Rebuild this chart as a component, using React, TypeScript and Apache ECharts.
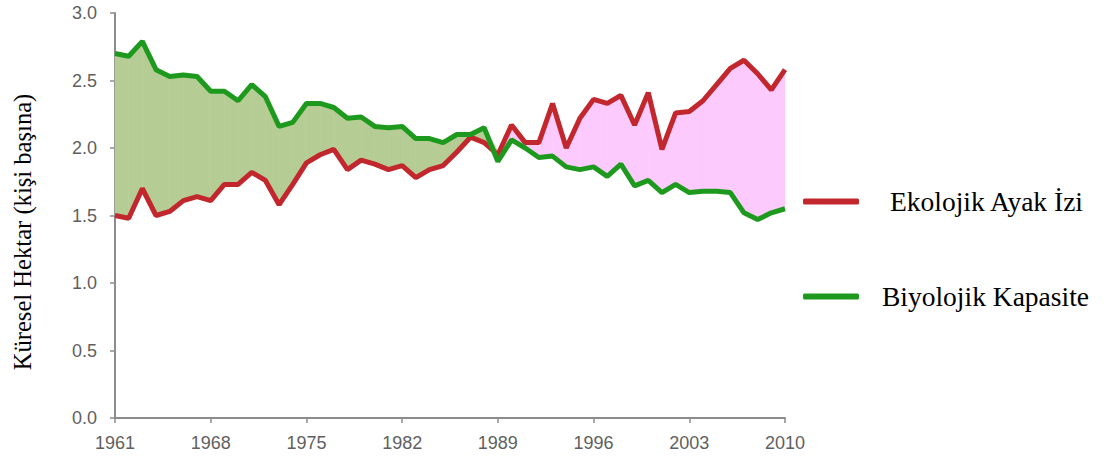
import React, { useEffect, useRef } from "react";
import * as echarts from "echarts";

const years: string[] = [];
for (let y = 1961; y <= 2010; y++) years.push(String(y));

const footprint = [
  1.50, 1.48, 1.70, 1.50, 1.53, 1.61, 1.64, 1.61, 1.73, 1.73,
  1.82, 1.76, 1.58, 1.73, 1.89, 1.95, 1.99, 1.84, 1.91, 1.88,
  1.84, 1.87, 1.78, 1.84, 1.87, 1.97, 2.08, 2.04, 1.95, 2.17,
  2.04, 2.04, 2.33, 2.00, 2.22, 2.36, 2.33, 2.39, 2.17, 2.41,
  1.99, 2.26, 2.27, 2.35, 2.47, 2.59, 2.65, 2.55, 2.43, 2.58,
];

const biocapacity = [
  2.70, 2.68, 2.79, 2.58, 2.53, 2.54, 2.53, 2.42, 2.42, 2.35,
  2.47, 2.38, 2.16, 2.19, 2.33, 2.33, 2.30, 2.22, 2.23, 2.16,
  2.15, 2.16, 2.07, 2.07, 2.04, 2.10, 2.10, 2.15, 1.90, 2.06,
  2.00, 1.93, 1.94, 1.86, 1.84, 1.86, 1.79, 1.88, 1.72, 1.76,
  1.67, 1.73, 1.67, 1.68, 1.68, 1.67, 1.52, 1.47, 1.52, 1.55,
];

const seriesNames = ["Ekolojik Ayak İzi", "Biyolojik Kapasite"];
const yTitle = "Küresel Hektar (kişi başına)";

const RED = "#c1272d";
const GREEN = "#1d9a1d";
const FILL_GREEN = "#b5cd95";
const FILL_PINK = "#fdcafd";

export default function App() {
  const ref = useRef<HTMLDivElement>(null);

  useEffect(() => {
    if (!ref.current) return;
    const chart = echarts.init(ref.current, undefined, { renderer: "svg" });

    const segData = [];
    for (let i = 0; i < years.length - 1; i++) segData.push([i, biocapacity[i], footprint[i]]);

    const renderItem = (params: any, api: any) => {
      const i = api.value(0) as number;
      const a0 = biocapacity[i], b0 = footprint[i];
      const a1 = biocapacity[i + 1], b1 = footprint[i + 1];
      const d0 = a0 - b0, d1 = a1 - b1;
      const c = (pts: number[][]) => pts.map((p) => api.coord(p));
      const children: any[] = [];
      const poly = (pts: number[][], color: string) =>
        children.push({
          type: "polygon",
          shape: { points: c(pts) },
          style: { fill: color, stroke: color, lineWidth: 0.6 },
        });
      if (d0 * d1 >= 0) {
        const col = d0 + d1 >= 0 ? FILL_GREEN : FILL_PINK;
        poly([[i, a0], [i + 1, a1], [i + 1, b1], [i, b0]], col);
      } else {
        const t = d0 / (d0 - d1);
        const xc = i + t;
        const yc = a0 + t * (a1 - a0);
        poly([[i, a0], [xc, yc], [i, b0]], d0 > 0 ? FILL_GREEN : FILL_PINK);
        poly([[xc, yc], [i + 1, a1], [i + 1, b1]], d1 > 0 ? FILL_GREEN : FILL_PINK);
      }
      return { type: "group", children };
    };

    const axisGray = "#8c8c8c";
    const labelGray = "#5f5f5f";
    const labelFont = "'Liberation Sans', Arial, sans-serif";
    const serif = "'Liberation Serif', 'Times New Roman', serif";

    const legendText = (padLeft: number) => ({
      fontFamily: serif,
      fontSize: 27.5,
      lineHeight: 30,
      color: "#000",
      padding: [0, 0, 0, padLeft],
    });

    chart.setOption({
      animation: false,
      grid: { left: 115, right: 319, top: 13, bottom: 45 },
      legend: [
        {
          data: [{ name: seriesNames[0], icon: "roundRect" }],
          left: 803,
          top: 186.5,
          padding: 0,
          itemWidth: 56,
          itemHeight: 6,
          itemGap: 0,
          textStyle: legendText(26),
          selectedMode: false,
        },
        {
          data: [{ name: seriesNames[1], icon: "roundRect" }],
          left: 803,
          top: 281.5,
          padding: 0,
          itemWidth: 56,
          itemHeight: 6,
          itemGap: 0,
          textStyle: legendText(18),
          selectedMode: false,
        },
      ],
      graphic: [
        {
          type: "text",
          x: 22,
          y: 232,
          rotation: Math.PI / 2,
          style: {
            text: yTitle,
            fontFamily: serif,
            fontSize: 24.6,
            fill: "#000",
            align: "center",
            verticalAlign: "middle",
          },
        },
      ],
      xAxis: {
        type: "category",
        data: years,
        boundaryGap: false,
        axisLine: { lineStyle: { color: axisGray, width: 2 } },
        axisTick: { interval: 6, length: 5, lineStyle: { color: axisGray, width: 1.5 } },
        axisLabel: {
          interval: 6,
          color: labelGray,
          fontFamily: labelFont,
          fontSize: 18,
          margin: 16,
        },
        splitLine: { show: false },
      },
      yAxis: {
        type: "value",
        min: 0,
        max: 3,
        interval: 0.5,
        axisLine: { show: true, lineStyle: { color: axisGray, width: 2 } },
        axisTick: { show: true, length: 5, lineStyle: { color: axisGray, width: 1.5 } },
        axisLabel: {
          color: labelGray,
          fontFamily: labelFont,
          fontSize: 18,
          margin: 18,
          formatter: (v: number) => v.toFixed(1),
        },
        splitLine: { show: false },
      },
      series: [
        {
          type: "custom",
          name: "fill",
          data: segData,
          renderItem,
          z: 1,
          silent: true,
        },
        {
          type: "line",
          name: seriesNames[0],
          data: footprint,
          symbol: "none",
          color: RED,
          lineStyle: { color: RED, width: 5 },
          z: 3,
        },
        {
          type: "line",
          name: seriesNames[1],
          data: biocapacity,
          symbol: "none",
          color: GREEN,
          lineStyle: { color: GREEN, width: 5 },
          z: 4,
        },
      ],
    });

    return () => chart.dispose();
  }, []);

  return (
    <div
      ref={ref}
      style={{ position: "fixed", left: 0, top: 0, width: 1104, height: 463, background: "#fff" }}
    />
  );
}
